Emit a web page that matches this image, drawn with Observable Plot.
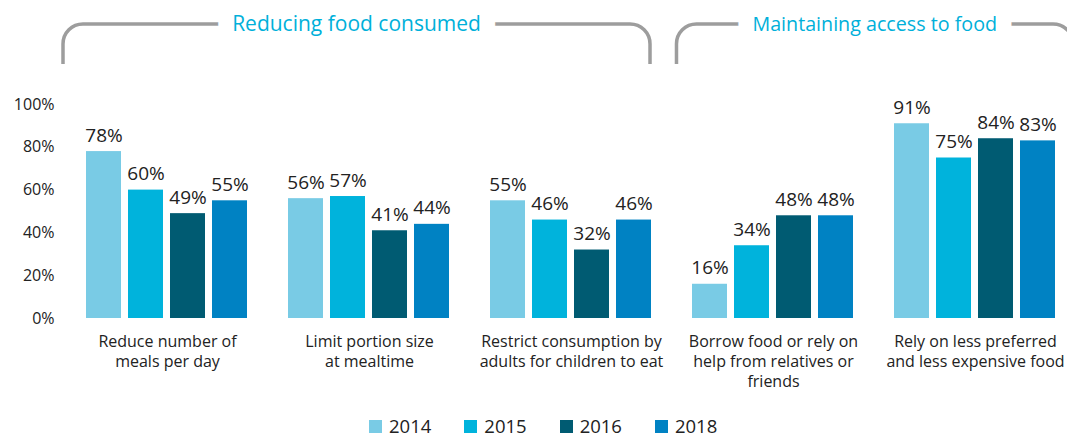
<!DOCTYPE html>
<html><head><meta charset="utf-8">
<script src="https://cdn.jsdelivr.net/npm/d3@7"></script>
<script src="https://cdn.jsdelivr.net/npm/@observablehq/plot@0.6"></script>
<style>
body{margin:0;background:#fff;font-family:"Open Sans",sans-serif;}
#chart{width:1067px;height:439px;overflow:hidden;}
#chart svg{display:block;}
.legend{display:flex;align-items:center;height:32px;padding-left:369px;font-size:18.5px;line-height:18px;color:#222;font-family:"Open Sans",sans-serif;}
.legend .item{display:flex;align-items:center;margin-right:33px;}
.legend .sw{width:13px;height:13px;margin-right:7px;}
</style></head><body><div id="chart"></div>
<script>
const categories = [
  "Reduce number of meals per day",
  "Limit portion size at mealtime",
  "Restrict consumption by adults for children to eat",
  "Borrow food or rely on help from relatives or friends",
  "Rely on less preferred and less expensive food"
];
const categoryLabels = [
  "Reduce number of\nmeals per day",
  "Limit portion size\nat mealtime",
  "Restrict consumption by\nadults for children to eat",
  "Borrow food or rely on\nhelp from relatives or\nfriends",
  "Rely on less preferred\nand less expensive food"
];
const years = ["2014", "2015", "2016", "2018"];
const values2014 = [78, 56, 55, 16, 91];
const values2015 = [60, 57, 46, 34, 75];
const values2016 = [49, 41, 32, 48, 84];
const values2018 = [55, 44, 46, 48, 83];
const yTicks = [0, 20, 40, 60, 80, 100];
const sections = ["Reducing food consumed", "Maintaining access to food"];
const sectionFirst = [categories[0], categories[3]];
const sectionLast = [categories[2], categories[4]];
const colors = ["#79cbe5", "#00b3dc", "#005b72", "#0082c3"];

const series = [values2014, values2015, values2016, values2018];
const data = categories.flatMap((c, i) => years.map((y, j) => ({category: c, year: y, value: series[j][i]})));

const plot = Plot.plot({
  width: 1067, height: 410,
  marginTop: 104, marginBottom: 92, marginLeft: 84, marginRight: 9,
  style: {fontFamily: "Open Sans", background: "white", color: "#222"},
  fx: {domain: categories, paddingInner: 0.19, paddingOuter: 0, label: null},
  x: {domain: years, paddingInner: 0.156, paddingOuter: 0, axis: null},
  y: {domain: [0, 100]},
  color: {domain: years, range: colors},
  marks: [
    Plot.barY(data, {fx: "category", x: "year", y: "value", fill: "year"}),
    Plot.text(data, {fx: "category", x: "year", y: "value", text: d => d.value + "%", lineAnchor: "bottom", dy: -10, fontSize: 19, fill: "#222"}),
    Plot.axisY({ticks: yTicks, tickFormat: d => d + "%", tickSize: 0, tickPadding: 31, fontSize: 16, fill: "#222", label: null}),
    Plot.axisFx({anchor: "bottom", tickSize: 0, tickPadding: 14, fontSize: 16, lineHeight: 1.25, fill: "#222", label: null,
      tickFormat: c => categoryLabels[categories.indexOf(c)]})
  ]
});
document.getElementById("chart").appendChild(plot);

// Section brackets and headers
const fxs = plot.scale("fx");
const band = d3.scaleBand(fxs.domain, fxs.range).paddingInner(fxs.paddingInner).paddingOuter(fxs.paddingOuter).align(fxs.align ?? 0.5);
const svg = d3.select(plot);
const padL = [21, 15], padR = [-3, 15];
const headerSize = [21, 19.7];
const topY = 24, botY = 64, r = 20;
sections.forEach((name, i) => {
  const x0 = band(sectionFirst[i]) - padL[i];
  const x1 = band(sectionLast[i]) + band.bandwidth() + padR[i];
  svg.append("path")
    .attr("d", `M${x0},${botY}V${topY + r}A${r},${r} 0 0 1 ${x0 + r},${topY}H${x1 - r}A${r},${r} 0 0 1 ${x1},${topY + r}V${botY}`)
    .attr("fill", "none").attr("stroke", "#9d9d9d").attr("stroke-width", 3.5);
  svg.append("text")
    .attr("x", (x0 + x1) / 2).attr("y", topY).attr("dy", "0.35em")
    .attr("text-anchor", "middle")
    .attr("font-family", "Open Sans").attr("font-size", headerSize[i])
    .attr("fill", "#00b0da")
    .attr("stroke", "white").attr("stroke-width", 32).attr("stroke-linejoin", "round")
    .attr("paint-order", "stroke")
    .text(name);
});

// Legend
const legend = d3.select("#chart").append("div").attr("class", "legend");
years.forEach((y, j) => {
  const item = legend.append("div").attr("class", "item");
  item.append("div").attr("class", "sw").style("background", colors[j]);
  item.append("span").text(y);
});
</script></body></html>
